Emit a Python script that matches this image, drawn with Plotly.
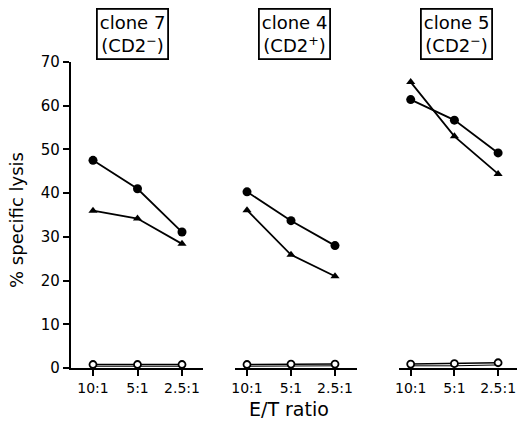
import plotly.graph_objects as go

ratios = ["10:1", "5:1", "2.5:1"]
positions = [0, 1, 2]
clones = ["clone 7<br>(CD2<sup>−</sup>)", "clone 4<br>(CD2<sup>+</sup>)", "clone 5<br>(CD2<sup>−</sup>)"]

filled_circles = [[47.5, 41.0, 31.1], [40.3, 33.7, 28.0], [61.4, 56.7, 49.2]]
filled_triangles = [[36.0, 34.2, 28.4], [36.1, 25.9, 21.0], [65.4, 53.0, 44.4]]
open_circles = [[0.8, 0.8, 0.8], [0.8, 0.9, 0.9], [0.9, 1.0, 1.2]]
controls = [[0.4, 0.4, 0.4], [0.4, 0.5, 0.5], [0.5, 0.5, 0.7]]

y_ticks = [0, 10, 20, 30, 40, 50, 60, 70]

FONT = "DejaVu Sans"
L, R, T, B, W, H = 71, 0, 62, 54, 517, 422
pw = W - L - R
ph = H - T - B

# panel pixel extents (x axis line) and first-point pixel position and spacing
panels_px = [(71, 203, 93, 44.5), (235, 357, 247, 44.0), (399, 517, 410.7, 43.7)]
box_centers_px = [132.5, 294.5, 456]

fig = go.Figure()
for i in range(3):
    xa = "x" if i == 0 else f"x{i+1}"
    fig.add_trace(go.Scatter(x=positions, y=controls[i], xaxis=xa, yaxis="y", mode="lines",
                             line=dict(color="black", width=1), showlegend=False, hoverinfo="skip"))
    fig.add_trace(go.Scatter(x=positions, y=open_circles[i], xaxis=xa, yaxis="y", mode="lines+markers",
                             line=dict(color="black", width=1.5),
                             marker=dict(symbol="circle", size=7, color="white", line=dict(color="black", width=1.8)),
                             showlegend=False))
    fig.add_trace(go.Scatter(x=positions, y=filled_triangles[i], xaxis=xa, yaxis="y", mode="lines+markers",
                             line=dict(color="black", width=1.8),
                             marker=dict(symbol="triangle-up", size=8, color="black"),
                             showlegend=False))
    fig.add_trace(go.Scatter(x=positions, y=filled_circles[i], xaxis=xa, yaxis="y", mode="lines+markers",
                             line=dict(color="black", width=1.8),
                             marker=dict(symbol="circle", size=9, color="black"),
                             showlegend=False))

layout = dict(
    width=W, height=H,
    margin=dict(l=L, r=R, t=T, b=B),
    paper_bgcolor="white", plot_bgcolor="white",
    font=dict(family=FONT, color="black"),
    yaxis=dict(range=[0, 70], tickvals=y_ticks, showgrid=False, zeroline=False,
               showline=True, linecolor="black", linewidth=2.2, ticks="outside", ticklen=6,
               tickwidth=1.8, tickcolor="black", tickfont=dict(size=15, family=FONT),
               anchor="x", position=0),
)
for i, (x0, x1, p0, sp) in enumerate(panels_px):
    key = "xaxis" if i == 0 else f"xaxis{i+1}"
    dom = [(x0 - L) / pw, (x1 - L) / pw]
    rng = [(x0 - p0) / sp, (x1 - p0) / sp]
    layout[key] = dict(domain=dom, range=rng, tickvals=positions, ticktext=ratios,
                       showgrid=False, zeroline=False, showline=True, linecolor="black",
                       linewidth=2.2, ticks="outside", ticklen=6, tickwidth=1.8, tickcolor="black",
                       tickfont=dict(size=14, family=FONT), anchor="y")
fig.update_layout(**layout)

for i, cx in enumerate(box_centers_px):
    fig.add_annotation(text=clones[i], xref="paper", yref="paper",
                       x=(cx - L) / pw, y=(H - B - 8) / ph, xanchor="center", yanchor="top",
                       showarrow=False, font=dict(size=18, family=FONT, color="black"),
                       bordercolor="black", borderwidth=1.8, borderpad=2, bgcolor="white")

fig.add_annotation(text="% specific lysis", xref="paper", yref="paper",
                   x=(17 - L) / pw, y=(H - B - 220) / ph, xanchor="center", yanchor="middle",
                   textangle=-90, showarrow=False, font=dict(size=18, family=FONT, color="black"))
fig.add_annotation(text="E/T ratio", xref="paper", yref="paper",
                   x=(289 - L) / pw, y=(H - B - 409) / ph, xanchor="center", yanchor="middle",
                   showarrow=False, font=dict(size=19, family=FONT, color="black"))

fig.write_html("out.html", config={"displayModeBar": False},
               post_script="document.body.style.margin='0';")
